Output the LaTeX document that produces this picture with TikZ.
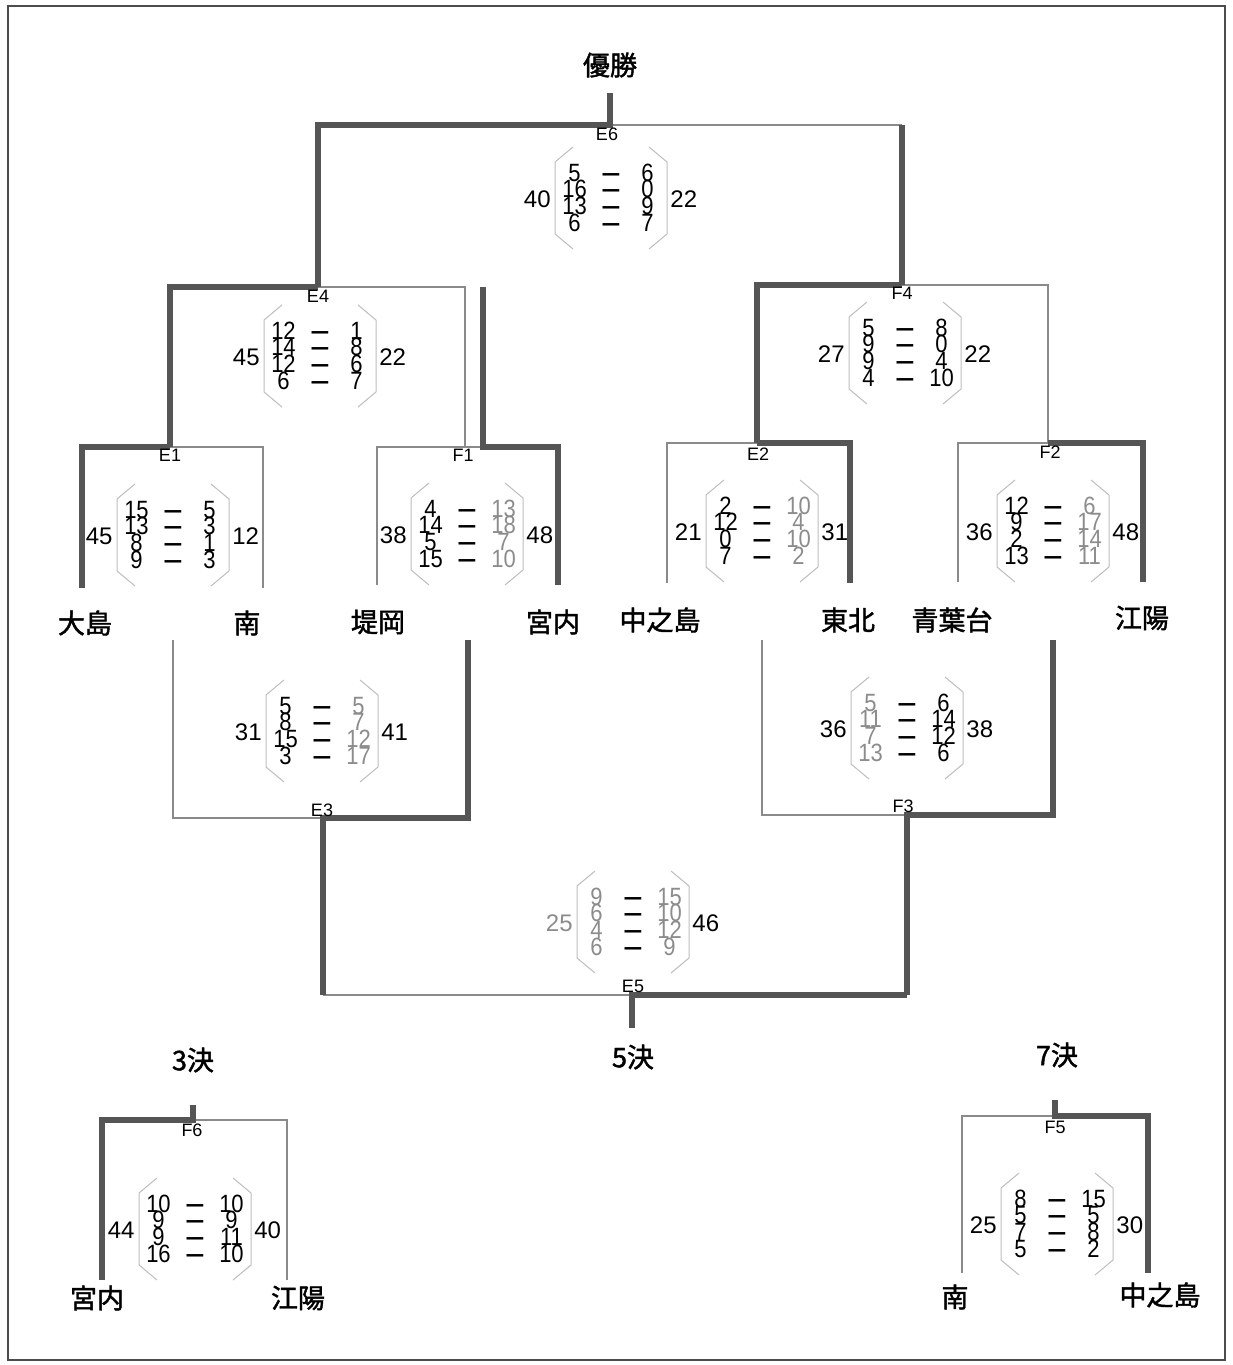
\documentclass[tikz,border=0pt]{standalone}
\usepackage{fontspec}
\usepackage{graphicx}
\setmainfont{Liberation Sans}
\newfontfamily\numfont[FakeStretch=0.88]{Liberation Sans}
\newfontfamily\cjk[FakeBold=1.6]{Noto Sans CJK JP}
\definecolor{thickc}{HTML}{555555}
\definecolor{thinc}{HTML}{8A8A8A}
\definecolor{brkc}{HTML}{BDBDBD}
\definecolor{numg}{HTML}{8C8C8C}
\tikzset{
  thickl/.style={line width=3pt, draw=thickc},
  thinl/.style={line width=0.7pt, draw=thinc},
  brk/.style={line width=0.5pt, draw=brkc},
  num/.style={font=\numfont\fontsize{12.5}{12.5}\selectfont, inner sep=0pt, text height=9pt, text depth=0pt},
  dsh/.style={font=\bfseries\fontsize{12.5}{12.5}\selectfont, inner sep=0pt, text height=9pt, text depth=0pt},
  tot/.style={font=\fontsize{12}{12}\selectfont, inner sep=0pt},
  ltot/.style={tot},
  lbl/.style={font=\fontsize{9}{9}\selectfont, inner sep=0pt},
  team/.style={font=\cjk\fontsize{13.5}{13.5}\selectfont, inner sep=0pt},
}
\newcommand\mblock[9]{%
\begin{scope}[shift={(#2,#3)}]
\draw[brk] (-38,-50) -- (-56,-35) -- (-56,37) -- (-38,52);
\draw[brk] (38,-50) -- (56,-35) -- (56,37) -- (38,52);
\foreach \v [count=\i] in {#4} {\node[num,text=#8] (#1L\i) at (-36.5,{-25+(\i-1)*16.7}) {\v};}
\foreach \v [count=\i] in {#5} {\node[num,text=#9] (#1R\i) at (36.5,{-25+(\i-1)*16.7}) {\v};}
\foreach \i in {1,...,4} {\node[dsh] (#1D\i) at (0,{-25+(\i-1)*16.7}) {\scalebox{1.35}[1]{–}};}
\node[ltot,anchor=east] (#1LT) at (-60,2) {#6};
\node[tot,anchor=west] (#1RT) at (59,2) {#7};
\end{scope}}
\begin{document}
\begin{tikzpicture}[x=0.5pt,y=-0.5pt]
\useasboundingbox (0,0) rectangle (1232,1365);
\draw[line width=0.6pt, draw=black!70] (8,6) rectangle (1225,1360);

% ---- coordinates ----
\coordinate (top) at (610,93);   \coordinate (j6) at (610,125);
\coordinate (e6l) at (318,125);  \coordinate (e6r) at (902,125);
\coordinate (e4l) at (170,287);  \coordinate (e4j) at (318,287); \coordinate (e4r) at (465,287);
\coordinate (f4l) at (757,285);  \coordinate (f4j) at (902,285); \coordinate (f4r) at (1048,285);
\coordinate (e1l) at (82,447);   \coordinate (e1j) at (170,447); \coordinate (e1r) at (263,447);
\coordinate (e1lb) at (82,588);  \coordinate (e1rb) at (263,588);
\coordinate (f1l) at (377,447);  \coordinate (f1a) at (465,447); \coordinate (f1j) at (483,447); \coordinate (f1r) at (558,447);
\coordinate (f1t) at (483,287);
\coordinate (f1lb) at (377,585); \coordinate (f1rb) at (558,585);
\coordinate (e2l) at (667,443);  \coordinate (e2j) at (757,443); \coordinate (e2r) at (850,443);
\coordinate (e2lb) at (667,583); \coordinate (e2rb) at (850,583);
\coordinate (f2l) at (958,443);  \coordinate (f2j) at (1048,443); \coordinate (f2r) at (1143,443);
\coordinate (f2lb) at (958,582); \coordinate (f2rb) at (1143,582);
\coordinate (e3lt) at (173,640); \coordinate (e3l) at (173,818); \coordinate (e3j) at (323,818);
\coordinate (e3r) at (468,818);  \coordinate (e3rt) at (468,640);
\coordinate (f3lt) at (762,640); \coordinate (f3l) at (762,815); \coordinate (f3j) at (907,815);
\coordinate (f3r) at (1053,815); \coordinate (f3rt) at (1053,640);
\coordinate (e5l) at (323,995);  \coordinate (e5j) at (632,995); \coordinate (e5r) at (907,995);
\coordinate (e5b) at (632,1028);
\coordinate (f6t) at (193,1105); \coordinate (f6j) at (193,1120);
\coordinate (f6l) at (102,1120); \coordinate (f6r) at (287,1120);
\coordinate (f6lb) at (102,1280); \coordinate (f6rb) at (287,1280);
\coordinate (f5t) at (1055,1100); \coordinate (f5j) at (1055,1116);
\coordinate (f5l) at (962,1116); \coordinate (f5r) at (1148,1116);
\coordinate (f5lb) at (962,1273); \coordinate (f5rb) at (1148,1273);

% ---- thin lines ----
\draw[thinl] (j6) -- (e6r);
\draw[thinl] (e4j) -- (e4r) -- (f1a);
\draw[thinl] (f4j) -- (f4r) -- (f2j);
\draw[thinl] (e1j) -- (e1r) -- (e1rb);
\draw[thinl] (f1lb) -- (f1l) -- (f1j);
\draw[thinl] (e2lb) -- (e2l) -- (e2j);
\draw[thinl] (f2lb) -- (f2l) -- (f2j);
\draw[thinl] (e3lt) -- (e3l) -- (e3j);
\draw[thinl] (f3lt) -- (f3l) -- (f3j);
\draw[thinl] (e5l) -- (e5j);
\draw[thinl] (f6j) -- (f6r) -- (f6rb);
\draw[thinl] (f5lb) -- (f5l) -- (f5j);

% ---- thick lines ----
\draw[thickl] (e4j) -- (e6l) -- (j6) -- (top);
\draw[thickl] (e6r) -- (f4j);
\draw[thickl] (e1j) -- (e4l) -- (e4j);
\draw[thickl] (e1lb) -- (e1l) -- (e1j);
\draw[thickl] (f1t) -- (f1j) -- (f1r) -- (f1rb);
\draw[thickl] (e2j) -- (f4l) -- (f4j);
\draw[thickl] (e2j) -- (e2r) -- (e2rb);
\draw[thickl] (f2j) -- (f2r) -- (f2rb);
\draw[thickl] (e5l) -- (e3j) -- (e3r) -- (e3rt);
\draw[thickl] (e5r) -- (f3j) -- (f3r) -- (f3rt);
\draw[thickl] (e5r) -- (e5j) -- (e5b);
\draw[thickl] (f6lb) -- (f6l) -- (f6j) -- (f6t);
\draw[thickl] (f5t) -- (f5j) -- (f5r) -- (f5rb);

% ---- match labels ----
\node[lbl] (E6) at (607,134) {E6};
\node[lbl] (E4) at (318,296) {E4};
\node[lbl] (F4) at (902,293) {F4};
\node[lbl] (E1) at (170,455) {E1};
\node[lbl] (F1) at (463,455) {F1};
\node[lbl] (E2) at (758,454) {E2};
\node[lbl] (F2) at (1050,452) {F2};
\node[lbl] (E3) at (322,810) {E3};
\node[lbl] (F3) at (903,806) {F3};
\node[lbl] (E5) at (633,986) {E5};
\node[lbl] (F6) at (192,1130) {F6};
\node[lbl] (F5) at (1055,1127) {F5};

% ---- score blocks ----
\mblock{mE6}{611}{197}{5,16,13,6}{6,0,9,7}{40}{22}{black}{black}
\mblock{mE4}{320}{355}{12,14,12,6}{1,8,6,7}{45}{22}{black}{black}
\mblock{mF4}{905}{352}{5,9,9,4}{8,0,4,10}{27}{22}{black}{black}
\mblock{mE1}{173}{534}{15,13,8,9}{5,3,1,3}{45}{12}{black}{black}
\mblock{mF1}{467}{533}{4,14,5,15}{13,18,7,10}{38}{48}{black}{numg}
\mblock{mE2}{762}{530}{2,12,0,7}{10,4,10,2}{21}{31}{black}{numg}
\mblock{mF2}{1053}{530}{12,9,2,13}{6,17,14,11}{36}{48}{black}{numg}
\mblock{mE3}{322}{730}{5,8,15,3}{5,7,12,17}{31}{41}{black}{numg}
\mblock{mF3}{907}{727}{5,11,7,13}{6,14,12,6}{36}{38}{numg}{black}
\begin{scope}[ltot/.style={tot,text=numg}]
\mblock{mE5}{633}{921}{9,6,4,6}{15,10,12,9}{25}{46}{numg}{numg}
\end{scope}
\mblock{mF6}{195}{1228}{10,9,9,16}{10,9,11,10}{44}{40}{black}{black}
\mblock{mF5}{1057}{1223}{8,5,7,5}{15,5,8,2}{25}{30}{black}{black}

% ---- titles and teams ----
\node[team] (win) at (610,65) {優勝};
\node[team] (t3) at (193,1060) {3決};
\node[team] (t5) at (633,1057) {5決};
\node[team] (t7) at (1057,1055) {7決};
\node[team] (n1) at (85,623) {大島};
\node[team] (n2) at (247,623) {南};
\node[team] (n3) at (378,622) {堤岡};
\node[team] (n4) at (553,622) {宮内};
\node[team] (n5) at (660,620) {中之島};
\node[team] (n6) at (848,620) {東北};
\node[team] (n7) at (952,620) {青葉台};
\node[team] (n8) at (1142,618) {江陽};
\node[team] (n9) at (97,1298) {宮内};
\node[team] (n10) at (298,1298) {江陽};
\node[team] (n11) at (955,1297) {南};
\node[team] (n12) at (1160,1295) {中之島};
\end{tikzpicture}
\end{document}
